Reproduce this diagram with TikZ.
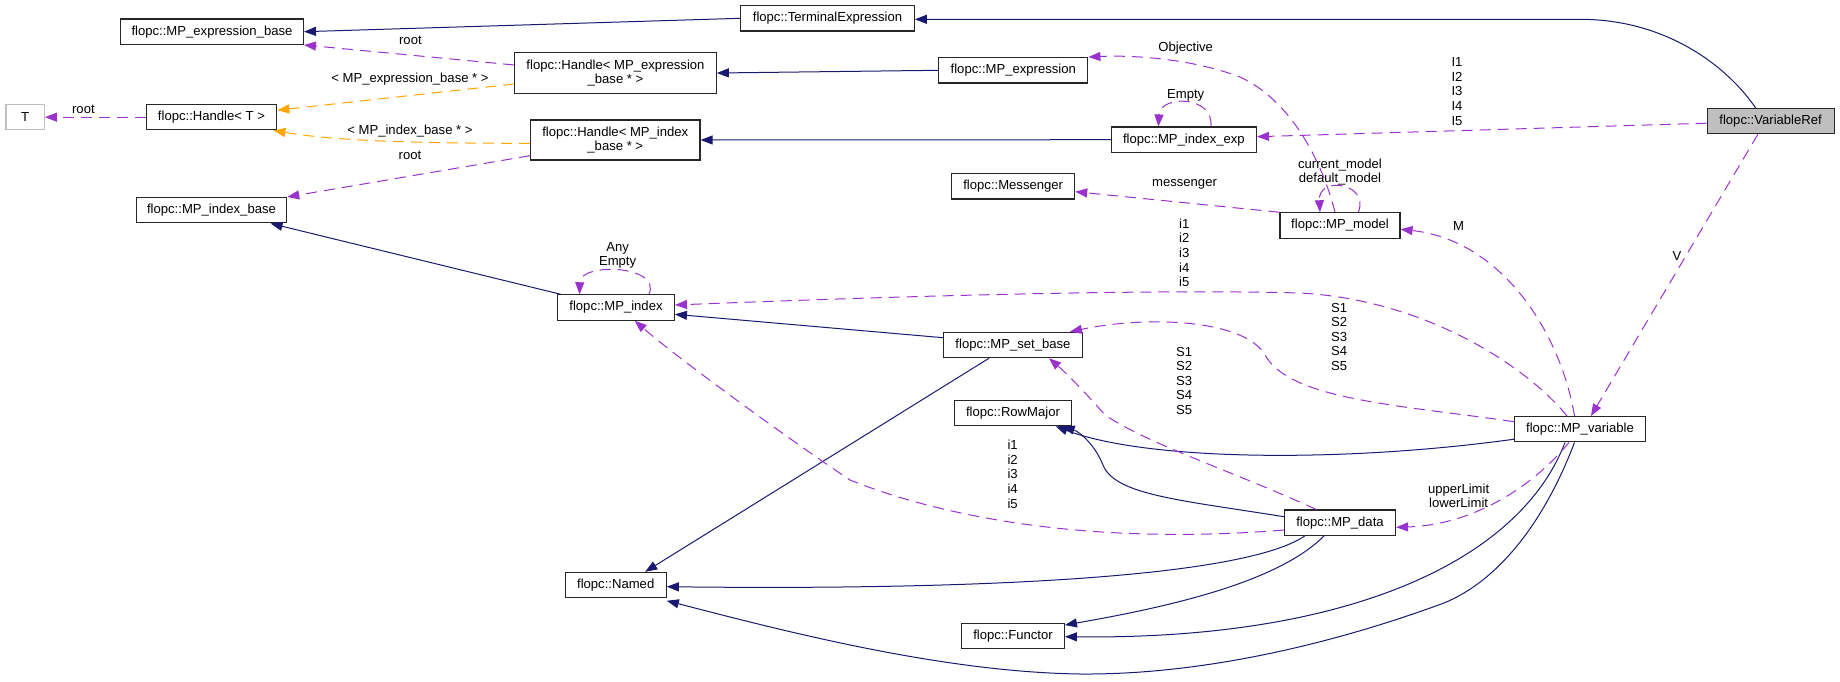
\documentclass[tikz,border=0pt]{standalone}
\usepackage{fontspec}
\setmainfont{Liberation Sans}
\usetikzlibrary{arrows.meta}
\definecolor{navy}{HTML}{191970}
\definecolor{orch}{HTML}{9A32CD}
\definecolor{orng}{HTML}{FFA500}
\definecolor{gbox}{HTML}{BFBFBF}
\begin{document}
\begin{tikzpicture}[x=1pt,y=-1pt,
  box/.style={draw=black!85, fill=white, line width=1.2pt, inner sep=0pt, minimum height=25.3pt, align=center, font=\fontsize{13.1}{14.6}\selectfont},
  lbl/.style={inner sep=0pt, align=center, font=\fontsize{13.1}{14.6}\selectfont},
  inh/.style={draw=navy, line width=1pt, -{Triangle[length=12pt,width=9pt]}},
  usg/.style={draw=orch, line width=1pt, dash pattern=on 11pt off 7pt, -{Triangle[length=12pt,width=9pt]}},
  tpl/.style={draw=orng, line width=1pt, dash pattern=on 11pt off 7pt, -{Triangle[length=12pt,width=9pt]}}
]
\useasboundingbox[fill=white] (0,0) rectangle (1840,681);

% nodes
\node[box, minimum width=182.7pt] (expbase) at (212,31.7) {flopc::MP\_expression\_base};
\node[box, draw=gbox, minimum width=38.4pt] (T) at (25.1,117.2) {T};
\node[box, minimum width=130.5pt] (handleT) at (211.5,117.2) {flopc::Handle< T >};
\node[box, minimum width=150.3pt] (idxbase) at (211.5,210.2) {flopc::MP\_index\_base};
\node[box, minimum width=201.5pt, minimum height=40.6pt] (handleexp) at (615.5,73) {flopc::Handle< MP\_expression\\\_base * >};
\node[box, minimum width=169.4pt, minimum height=40pt] (handleidx) at (615.3,140) {flopc::Handle< MP\_index\\\_base * >};
\node[box, minimum width=173.5pt] (terminal) at (827.5,18.3) {flopc::TerminalExpression};
\node[box, minimum width=149pt] (mpexpr) at (1013.3,70.3) {flopc::MP\_expression};
\node[box, minimum width=145pt] (idxexp) at (1183.9,139.7) {flopc::MP\_index\_exp};
\node[box, minimum width=122.9pt] (messenger) at (1013.2,186.3) {flopc::Messenger};
\node[box, minimum width=120pt] (model) at (1340,225.5) {flopc::MP\_model};
\node[box, fill=gbox, minimum width=127pt] (varref) at (1770.6,121.2) {flopc::VariableRef};
\node[box, minimum width=116.7pt] (mpindex) at (616,307.5) {flopc::MP\_index};
\node[box, minimum width=138.7pt] (setbase) at (1013,345) {flopc::MP\_set\_base};
\node[box, minimum width=117.4pt] (rowmajor) at (1013,413) {flopc::RowMajor};
\node[box, minimum width=130.8pt] (variable) at (1580,429.2) {flopc::MP\_variable};
\node[box, minimum width=111pt] (data) at (1340,522.7) {flopc::MP\_data};
\node[box, minimum width=101pt] (named) at (615.7,585) {flopc::Named};
\node[box, minimum width=102.7pt] (functor) at (1013,636) {flopc::Functor};

% labels
\node[lbl] (l1) at (410.4,40) {root};
\node[lbl] (l2) at (410,79) {< MP\_expression\_base * >};
\node[lbl] (l3) at (83.4,109) {root};
\node[lbl] (l4) at (410,130.7) {< MP\_index\_base * >};
\node[lbl] (l5) at (410,155.7) {root};
\node[lbl] (l6) at (1185.7,47.7) {Objective};
\node[lbl] (l7) at (1185.7,95) {Empty};
\node[lbl] (l8) at (1457,91.4) {I1\\I2\\I3\\I4\\I5};
\node[lbl] (l9) at (1184.5,184) {messenger};
\node[lbl] (l10) at (1340,172) {current\_model\\default\_model};
\node[lbl] (l11) at (1458.5,226) {M};
\node[lbl] (l12) at (1677,256) {V};
\node[lbl] (l13) at (617.6,255.2) {Any\\Empty};
\node[lbl] (l14) at (1184.2,252.8) {i1\\i2\\i3\\i4\\i5};
\node[lbl] (l15) at (1339.2,336.7) {S1\\S2\\S3\\S4\\S5};
\node[lbl] (l16) at (1184.2,380.8) {S1\\S2\\S3\\S4\\S5};
\node[lbl] (l17) at (1012.6,474.2) {i1\\i2\\i3\\i4\\i5};
\node[lbl] (l18) at (1458.6,496) {upperLimit\\lowerLimit};

% inheritance (solid)
\draw[inh] (terminal.west) -- (expbase.east);
\draw[inh] ([xshift=-15pt]varref.north) .. controls (1730,70) and (1670,19.3) .. (1580,19.3) -- ([yshift=-1pt]terminal.east);
\draw[inh] (mpexpr.west) -- (handleexp.east);
\draw[inh] (idxexp.west) -- (handleidx.east);
\draw[inh] ([xshift=3.6pt]mpindex.north west) -- ([xshift=-16.7pt]idxbase.south east);
\draw[inh] ([yshift=7.3pt]setbase.west) -- ([yshift=-6.8pt]mpindex.east);
\draw[inh] ([xshift=-24pt]setbase.south) -- ([xshift=29.5pt]named.north);
\draw[inh] ([yshift=-10pt]variable.west) .. controls (1350,462) and (1150,462) .. ([xshift=-16.7pt]rowmajor.south east);
\draw[inh] ([yshift=6pt]data.west) .. controls (1180,500) and (1115,495) .. (1103,465) .. controls (1095,445) and (1080,432) .. ([xshift=-9.7pt]rowmajor.south east);
\draw[inh] ([xshift=-35.3pt]data.south) .. controls (1240,580) and (950,590) .. ([yshift=-1.7pt]named.east);
\draw[inh] ([xshift=-16pt]data.south) .. controls (1280,580) and (1180,605) .. ([yshift=11pt]functor.east);
\draw[inh] ([xshift=-15pt]variable.south) .. controls (1520,560) and (1350,640) .. ([yshift=-0.7pt]functor.east);
\draw[inh] ([xshift=-5.5pt]variable.south) .. controls (1545,520) and (1500,580) .. (1444,603) .. controls (1330,645) and (1200,675) .. (1080,674) .. controls (940,672) and (780,630) .. ([yshift=-2.5pt]named.south east);

% template (orange)
\draw[tpl] ([yshift=-11pt]handleexp.west) -- ([yshift=7pt]handleT.east);
\draw[tpl] ([yshift=-3.3pt]handleidx.west) .. controls (400,143.3) and (330,140) .. ([xshift=-4pt]handleT.south east);

% usage (purple dashed)
\draw[usg] ([yshift=8pt]handleexp.west) -- (expbase.south east);
\draw[usg] (handleT.west) -- (T.east);
\draw[usg] ([yshift=-15.7pt]handleidx.west) -- (idxbase.north east);
\draw[usg] ([xshift=-5pt]model.north) .. controls (1322,160) and (1290,100) .. (1240,77) .. controls (1190,58) and (1130,55) .. (mpexpr.north east);
\draw[usg] ([xshift=27pt]idxexp.north) .. controls (1214,95) and (1160,95) .. ([xshift=-25.5pt]idxexp.north);
\draw[usg] ([yshift=-2pt]varref.west) -- ([yshift=3pt]idxexp.east);
\draw[usg] (model.north west) -- ([yshift=-5.4pt]messenger.east);
\draw[usg] ([xshift=18.3pt]model.north) .. controls (1370,183) and (1318,175) .. ([xshift=-20pt]model.north);
\draw[usg] ([xshift=-5.5pt]variable.north) .. controls (1560,330) and (1500,240) .. ([yshift=-3.8pt]model.east);
\draw[usg] ([xshift=-12.8pt]varref.south) -- ([xshift=11pt]variable.north);
\draw[usg] ([xshift=33pt]mpindex.north) .. controls (662,265) and (580,262) .. ([xshift=-36.4pt]mpindex.north);
\draw[usg] ([xshift=-13pt]variable.north) .. controls (1530,370) and (1430,300) .. (1300,293) .. controls (1150,289) and (900,296) .. ([yshift=2.5pt]mpindex.east);
\draw[usg] ([yshift=7.5pt]variable.west) .. controls (1400,405) and (1290,400) .. (1265,355) .. controls (1245,320) and (1150,315) .. ([xshift=-13pt]setbase.north east);
\draw[usg] ([xshift=-23.8pt]data.north) .. controls (1230,470) and (1150,445) .. (1105,415) .. controls (1085,392) and (1065,372) .. ([xshift=36pt]setbase.south);
\draw[usg] ([yshift=-7.3pt]data.west) .. controls (1100,545) and (950,520) .. (850,480) .. controls (790,440) and (680,360) .. ([xshift=18.7pt]mpindex.south);
\draw[usg] ([xshift=-11pt]variable.south) .. controls (1530,490) and (1470,525) .. ([yshift=-4.6pt]data.east);
\end{tikzpicture}
\end{document}
